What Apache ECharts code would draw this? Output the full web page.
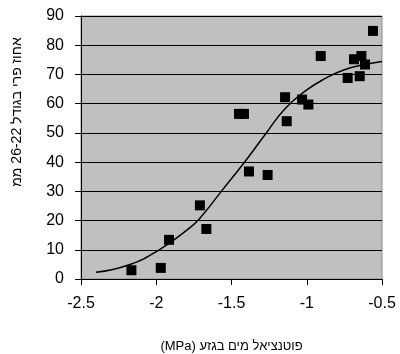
<!DOCTYPE html>
<html>
<head>
<meta charset="utf-8">
<script src="https://cdn.jsdelivr.net/npm/echarts@6/dist/echarts.min.js"></script>
<style>
html,body{margin:0;padding:0;background:#fff;}
#chart{width:400px;height:354px;}
</style>
</head>
<body>
<div id="chart"></div>
<script>
// Observed data points
var pointX = [-2.165, -1.97, -1.915, -1.71, -1.667, -1.45, -1.417, -1.384, -1.26, -1.144, -1.133, -1.031, -0.989, -0.907, -0.728, -0.686, -0.637, -0.648, -0.613, -0.56];
var pointY = [3.0, 3.8, 13.4, 25.2, 17.1, 56.5, 56.5, 36.8, 35.6, 62.2, 54.0, 61.4, 59.7, 76.3, 68.8, 75.2, 76.3, 69.4, 73.4, 84.9];
// Fitted trend curve
var curveX = [-2.40, -2.18, -1.98, -1.78, -1.71, -1.56, -1.41, -1.27, -1.14, -1.00, -0.87, -0.75, -0.62, -0.50];
var curveY = [2.3, 4.9, 10.0, 17.4, 20.8, 30.5, 40.2, 49.9, 58.5, 64.7, 68.8, 71.6, 73.3, 74.4];
// Axis settings
var xTicks = [-2.5, -2, -1.5, -1, -0.5];
var yTicks = [0, 10, 20, 30, 40, 50, 60, 70, 80, 90];
var xTitle = "\u202Bפוטנציאל מים בגזע (MPa)\u202C";
var yTitle = "אחוז פרי בגודל 26-22 ממ";

var FONT = "Arial, 'Liberation Sans', sans-serif";
var chart = echarts.init(document.getElementById('chart'), null, {renderer: 'canvas'});

var scatterData = pointX.map(function (x, i) { return [x, pointY[i]]; });
var curveData = curveX.map(function (x, i) { return [x, curveY[i]]; });

chart.setOption({
  animation: false,
  backgroundColor: '#ffffff',
  grid: {
    left: 81, right: 18, top: 16, bottom: 75,
    show: true, backgroundColor: '#c0c0c0', borderColor: '#8a8a8a', borderWidth: 1,
    outerBoundsMode: 'none'
  },
  xAxis: {
    type: 'value',
    min: xTicks[0], max: xTicks[xTicks.length - 1], interval: 0.5,
    name: xTitle, nameLocation: 'middle', nameGap: 61,
    nameTextStyle: {fontFamily: FONT, fontSize: 13, color: '#000'},
    axisLine: {show: true, onZero: false, lineStyle: {color: '#000', width: 1}},
    axisTick: {show: true, length: 6, lineStyle: {color: '#000'}},
    axisLabel: {fontFamily: FONT, fontSize: 16, color: '#000', margin: 17},
    splitLine: {show: false}
  },
  yAxis: {
    type: 'value',
    min: yTicks[0], max: yTicks[yTicks.length - 1], interval: 10,
    axisLine: {show: true, lineStyle: {color: '#000', width: 1}},
    axisTick: {show: true, length: 6, lineStyle: {color: '#000'}},
    axisLabel: {fontFamily: FONT, fontSize: 16, color: '#000', margin: 17},
    splitLine: {show: true, lineStyle: {color: '#000', width: 1}}
  },
  graphic: [{
    type: 'text',
    x: 17, y: 112,
    rotation: Math.PI / 2,
    style: {
      text: yTitle, font: '14px ' + FONT, fill: '#000',
      align: 'center', verticalAlign: 'middle'
    }
  }],
  series: [{
    type: 'scatter',
    data: scatterData,
    symbol: 'rect',
    symbolSize: 10,
    itemStyle: {color: '#000', opacity: 1},
    z: 2
  }, {
    type: 'line',
    data: curveData,
    smooth: true,
    showSymbol: false,
    symbol: 'none',
    lineStyle: {color: '#000', width: 1.5},
    z: 3
  }]
});
</script>
</body>
</html>
